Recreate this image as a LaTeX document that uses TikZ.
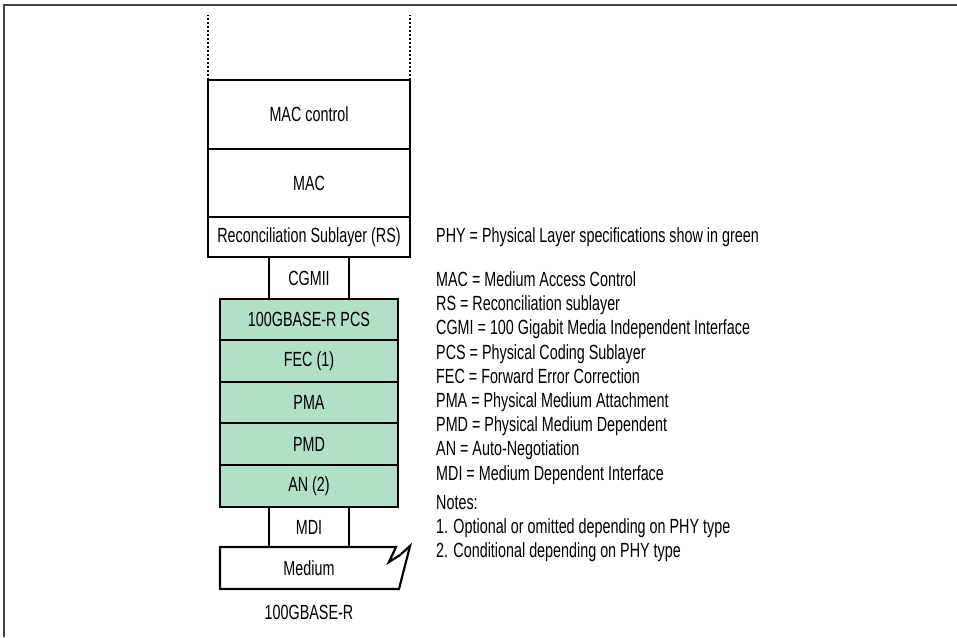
\documentclass[tikz,border=0pt]{standalone}
\usepackage{fontspec}
\setmainfont{Liberation Sans}[FakeStretch=0.70]
\usetikzlibrary{positioning}
\definecolor{phygreen}{HTML}{B2DFC8}
\definecolor{framegray}{HTML}{444444}
\tikzset{
  layer/.style={draw,line width=2.2pt,outer sep=0pt,inner sep=0pt,minimum width=202pt},
  phy/.style={layer,fill=phygreen,minimum width=178pt},
  link/.style={layer,minimum width=80pt},
  legend/.style={align=left,inner sep=0pt,anchor=north west}
}
\begin{document}
\begin{tikzpicture}[x=1pt,y=-1pt,font=\fontsize{20.5}{24.2}\selectfont]
\useasboundingbox (0,0) rectangle (957,637);
\draw[framegray,line width=2pt] (4,637) -- (4,5) -- (957,5);
% upper layers
\node[layer,minimum height=69pt] (macctl) at (309,114.5) {MAC control};
\node[layer,minimum height=68pt,below=0pt of macctl] (mac) {MAC};
\node[layer,minimum height=40pt,below=0pt of mac] (rs) {Reconciliation Sublayer (RS)};
\node[link,minimum height=42pt,below=0pt of rs] (cgmii) {CGMII};
\draw[dotted,line width=2pt] (macctl.north west) -- ++(0,-65);
\draw[dotted,line width=2pt] (macctl.north east) -- ++(0,-65);
% PHY in green
\node[phy,minimum height=41pt,below=0pt of cgmii] (pcs) {100GBASE-R PCS};
\node[phy,minimum height=42pt,below=0pt of pcs] (fec) {FEC (1)};
\node[phy,minimum height=41pt,below=0pt of fec] (pma) {PMA};
\node[phy,minimum height=42pt,below=0pt of pma] (pmd) {PMD};
\node[phy,minimum height=42pt,below=0pt of pmd] (an) {AN (2)};
\node[link,minimum height=40pt,below=0pt of an] (mdi) {MDI};
% medium
\node[inner sep=0pt,outer sep=0pt,minimum width=178pt,minimum height=42pt,below=0pt of mdi] (medium) {Medium};
\draw[line width=2.2pt,line join=miter] (medium.north west) -- ++(176,0) -- ++(-7,15) -- ++(11,-7) -- ++(10,-9)
  -- ([xshift=1pt]medium.south east) -- (medium.south west) -- cycle;
\node[below=16pt of medium,inner sep=0pt] (name) {100GBASE-R};
% key
\node[right=26pt of rs,inner sep=0pt] (phykey) {PHY = Physical Layer specifications show in green};
\node[legend] (abbr) at (436,271.5) {MAC = Medium Access Control\\
RS = Reconciliation sublayer\\
CGMI = 100 Gigabit Media Independent Interface\\
PCS = Physical Coding Sublayer\\
FEC = Forward Error Correction\\
PMA = Physical Medium Attachment\\
PMD = Physical Medium Dependent\\
AN = Auto-Negotiation\\
MDI = Medium Dependent Interface};
\node[legend] (notes) at (436,495) {Notes:\\
1. Optional or omitted depending on PHY type\\
2. Conditional depending on PHY type};
\end{tikzpicture}
\end{document}
